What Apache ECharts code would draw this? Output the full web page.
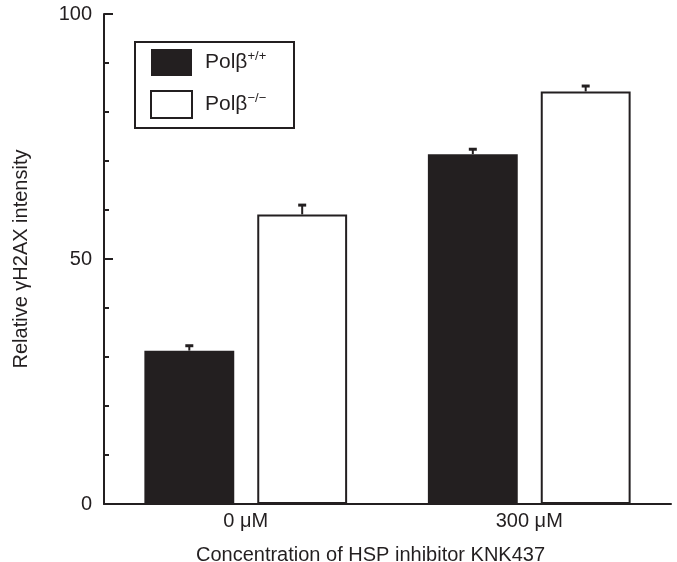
<!DOCTYPE html>
<html>
<head>
<meta charset="utf-8">
<script src="https://cdn.jsdelivr.net/npm/echarts@6/dist/echarts.min.js"></script>
<style>html,body{margin:0;padding:0;background:#fff;}#c{width:677px;height:562px;}</style>
</head>
<body>
<div id="c"></div>
<script>
const categories = ['0 \u03bcM', '300 \u03bcM'];
const seriesNames = ['Pol\u03b2+/+', 'Pol\u03b2\u2212/\u2212'];
const wtValues = [31.3, 71.4];
const koValues = [59.1, 84.2];
const wtErrors = [1.0, 1.0];
const koErrors = [1.9, 1.1];
const yTickLabels = [0, 50, 100];

const INK = '#231f20';
const BAR_W = 0.317;
const BAR_GAP = 0.256;
const FONT = '"Liberation Sans", Arial, sans-serif';

function errRenderer(sign) {
  return function (params, api) {
    const i = api.value(0), v = api.value(1), e = api.value(2);
    const band = api.size([1, 0])[0];
    const bw = band * BAR_W;
    const off = sign * (bw * (1 + BAR_GAP)) / 2;
    const base = api.coord([i, v]);
    const top = api.coord([i, v + e]);
    const x = base[0] + off;
    return {
      type: 'group',
      children: [
        { type: 'line', shape: { x1: x, y1: base[1], x2: x, y2: top[1] }, style: { stroke: INK, lineWidth: 2 } },
        { type: 'line', shape: { x1: x - 4, y1: top[1], x2: x + 4, y2: top[1] }, style: { stroke: INK, lineWidth: 3 } }
      ]
    };
  };
}

const chart = echarts.init(document.getElementById('c'), null, { renderer: 'canvas' });
chart.setOption({
  animation: false,
  backgroundColor: '#fff',
  textStyle: { fontFamily: FONT, color: INK },
  grid: { left: 104, right: 6, top: 14, bottom: 58, containLabel: false, outerBoundsMode: 'none' },
  graphic: [{
    type: 'rect', left: 134, top: 41, z: 1,
    shape: { width: 159, height: 86 },
    style: { fill: '#fff', stroke: INK, lineWidth: 2 }
  }],
  legend: {
    orient: 'vertical', left: 150, top: 49, padding: 0, z: 5,
    itemWidth: 41, itemHeight: 27, itemGap: 14, icon: 'rect',
    data: seriesNames,
    formatter: function (name) {
      const m = name.match(/^Pol\u03b2(.*)$/);
      return '{b|Pol\u03b2}{s|' + m[1] + '}';
    },
    textStyle: {
      color: INK, fontFamily: FONT,
      rich: {
        b: { fontSize: 21, lineHeight: 26, color: INK, fontFamily: FONT, padding: [0, 0, 0, 8] },
        s: { fontSize: 13, lineHeight: 16, verticalAlign: 'top', color: INK, fontFamily: FONT }
      }
    }
  },
  xAxis: {
    type: 'category', data: categories,
    axisLine: { lineStyle: { color: INK, width: 2 } },
    axisTick: { show: false },
    axisLabel: { color: INK, fontSize: 20, fontFamily: FONT, margin: 7 },
    name: 'Concentration of HSP inhibitor KNK437',
    nameLocation: 'middle', nameGap: 41,
    nameTextStyle: { color: INK, fontSize: 20, fontFamily: FONT, padding: [0, 34, 0, 0] }
  },
  yAxis: {
    type: 'value', min: 0, max: 100, interval: 50,
    axisLine: { show: true, lineStyle: { color: INK, width: 2 } },
    axisTick: { show: true, inside: true, length: 9, lineStyle: { color: INK, width: 2 } },
    minorTick: { show: true, splitNumber: 5, length: 5, lineStyle: { color: INK, width: 2 } },
    splitLine: { show: false },
    axisLabel: {
      color: INK, fontSize: 20, fontFamily: FONT, margin: 12,
      formatter: function (v) { return yTickLabels.indexOf(v) >= 0 ? String(v) : ''; }
    },
    name: 'Relative \u03b3H2AX intensity',
    nameLocation: 'middle', nameGap: 73, nameRotate: 90,
    nameTextStyle: { color: INK, fontSize: 20, fontFamily: FONT }
  },
  series: [
    {
      name: seriesNames[0], type: 'bar', data: wtValues,
      barWidth: (BAR_W * 100) + '%', barGap: (BAR_GAP * 100) + '%',
      itemStyle: { color: INK, borderColor: INK, borderWidth: 0 }
    },
    {
      name: seriesNames[1], type: 'bar', data: koValues,
      barWidth: (BAR_W * 100) + '%', barGap: (BAR_GAP * 100) + '%',
      itemStyle: { color: '#fff', borderColor: INK, borderWidth: 2 }
    },
    {
      type: 'custom', name: 'errWT', renderItem: errRenderer(-1),
      data: wtValues.map((v, i) => [i, v, wtErrors[i]]), z: 3, silent: true
    },
    {
      type: 'custom', name: 'errKO', renderItem: errRenderer(1),
      data: koValues.map((v, i) => [i, v, koErrors[i]]), z: 3, silent: true
    }
  ]
});
</script>
</body>
</html>
